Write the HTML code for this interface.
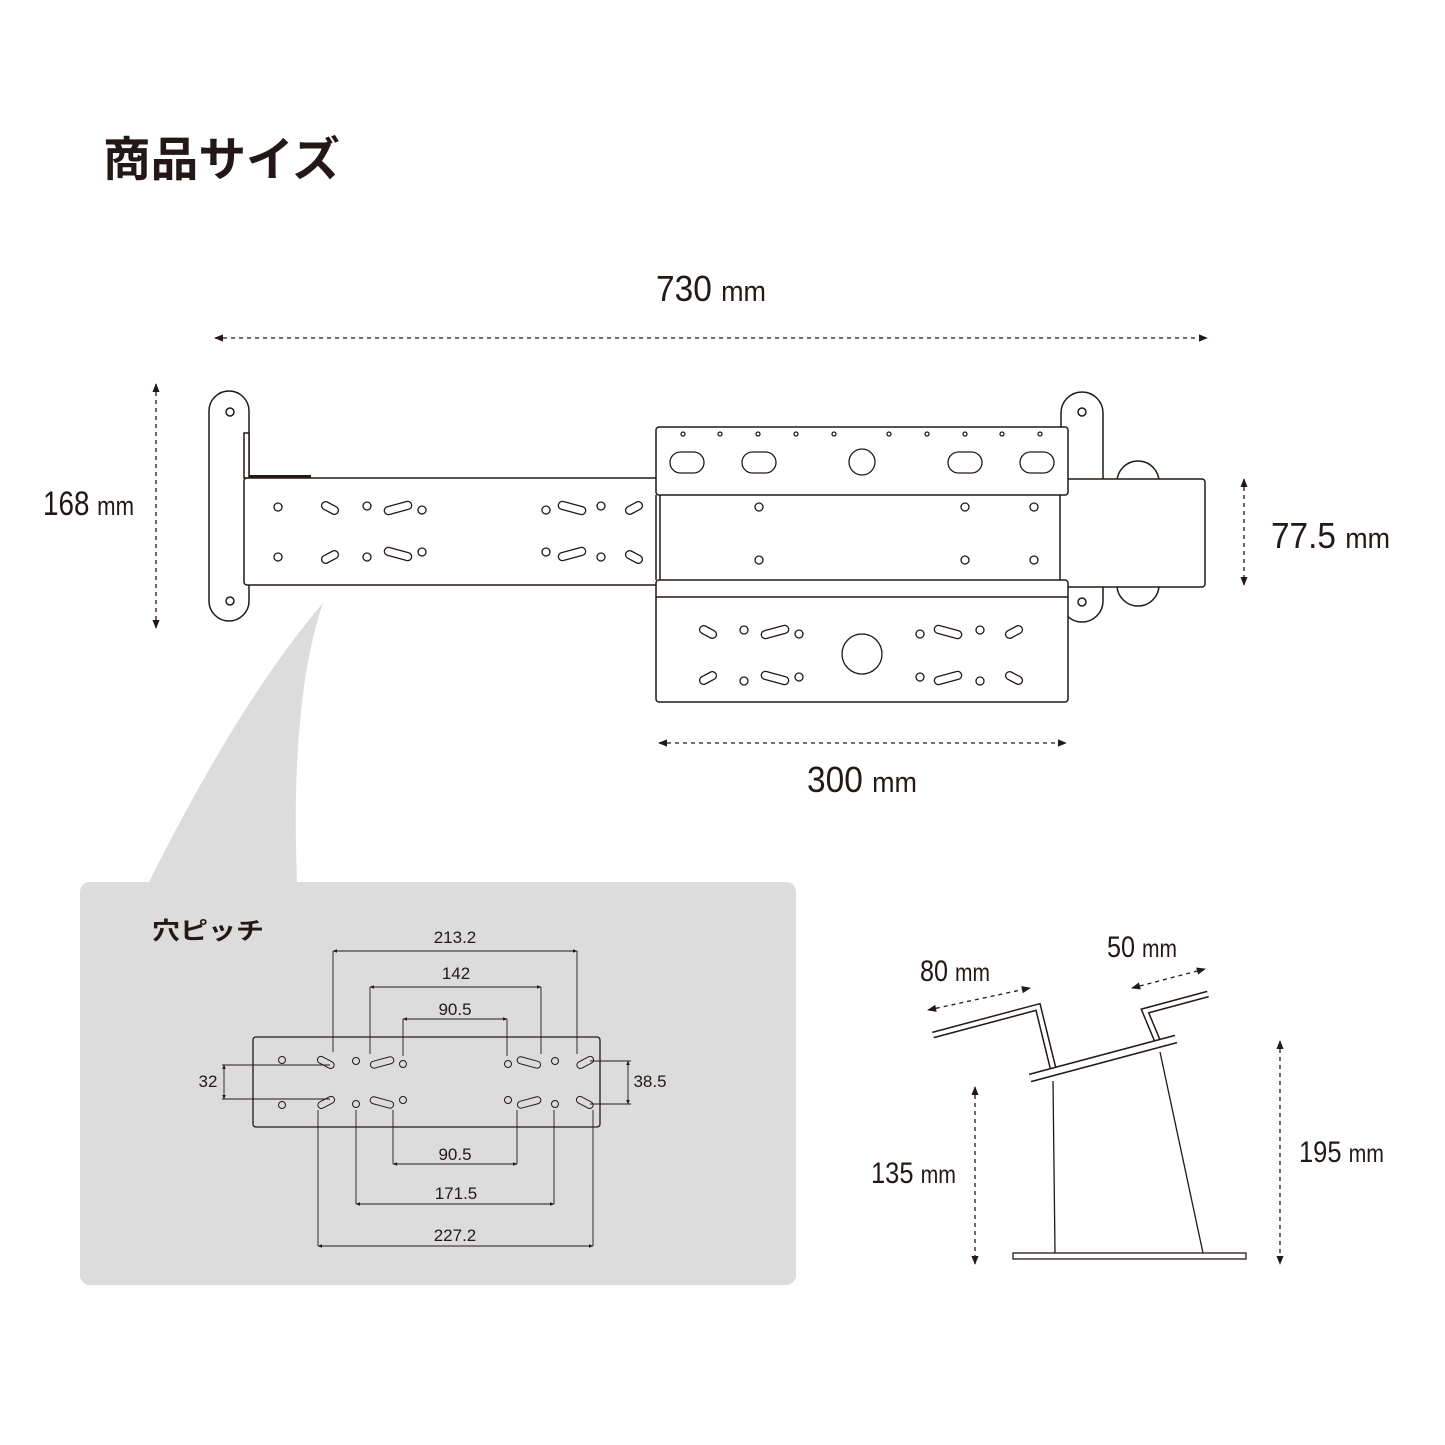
<!DOCTYPE html>
<html><head><meta charset="utf-8"><style>
html,body{margin:0;padding:0;background:#fff}
svg{display:block}
.n{font-family:"Liberation Sans Narrow","Liberation Sans",sans-serif;fill:#231815}
</style></head><body>
<svg width="1445" height="1445" viewBox="0 0 1445 1445" xmlns="http://www.w3.org/2000/svg">
<defs>
<marker id="a" viewBox="0 0 10 10" refX="9" refY="5" markerWidth="7" markerHeight="7" orient="auto-start-reverse"><path d="M0,1 L10,5 L0,9 z" fill="#231815"/></marker>
<marker id="b" viewBox="0 0 10 10" refX="9" refY="5" markerWidth="5" markerHeight="5" orient="auto-start-reverse"><path d="M0,1 L10,5 L0,9 z" fill="#231815"/></marker>
</defs>
<text x="103" y="176" font-family="'Liberation Sans','Noto Sans CJK JP',sans-serif" font-weight="bold" font-size="47" fill="#231815" textLength="237" lengthAdjust="spacingAndGlyphs">商品サイズ</text>

<path d="M149,882 Q240,700 323,603 Q290,700 297,882 Z" fill="#dcdcdc"/>
<rect x="80" y="882" width="716" height="403" rx="10" fill="#dcdcdc"/>

<g fill="#fff" stroke="#231815" stroke-width="1.5">
<rect x="209" y="391" width="40" height="230" rx="20"/>
<circle cx="230" cy="412" r="4"/><circle cx="230" cy="601" r="4"/>
<rect x="244" y="433" width="5" height="45"/>
<rect x="1061" y="392" width="42" height="230" rx="21"/>
<circle cx="1082" cy="412" r="4"/><circle cx="1082" cy="602" r="4"/>
<circle cx="1138" cy="482" r="21"/><circle cx="1138" cy="585" r="21"/>
<rect x="1060" y="479" width="145" height="108" rx="3"/>
<rect x="244" y="478" width="416" height="107" rx="3"/>
<rect x="656" y="427" width="412" height="68" rx="3"/>
<rect x="656" y="580" width="412" height="122" rx="3"/>
<line x1="656" y1="597" x2="1068" y2="597"/>
</g>
<rect x="249" y="475" width="62" height="3" fill="#231815"/>
<line x1="656" y1="495" x2="656" y2="580" stroke="#231815" stroke-width="1.5"/>

<g fill="#fff" stroke="#231815" stroke-width="1.3">
<circle cx="278" cy="507" r="4"/><circle cx="278" cy="557" r="4"/>
<rect x="321" y="504" width="18" height="8" rx="4" transform="rotate(28 330 508)"/>
<rect x="321" y="553" width="18" height="8" rx="4" transform="rotate(-28 330 557)"/>
<circle cx="367" cy="506" r="4"/><circle cx="367" cy="557" r="4"/>
<rect x="384" y="504" width="28" height="8" rx="4" transform="rotate(-15 398 508)"/>
<rect x="384" y="550" width="28" height="8" rx="4" transform="rotate(15 398 554)"/>
<circle cx="422" cy="510" r="4"/><circle cx="422" cy="552" r="4"/>
<circle cx="546" cy="510" r="4"/><circle cx="546" cy="552" r="4"/>
<rect x="558" y="504" width="28" height="8" rx="4" transform="rotate(15 572 508)"/>
<rect x="558" y="550" width="28" height="8" rx="4" transform="rotate(-15 572 554)"/>
<circle cx="601" cy="506" r="4"/><circle cx="601" cy="557" r="4"/>
<rect x="625" y="504" width="18" height="8" rx="4" transform="rotate(-28 634 508)"/>
<rect x="625" y="553" width="18" height="8" rx="4" transform="rotate(28 634 557)"/>
<circle cx="683" cy="434" r="2"/><circle cx="720" cy="434" r="2"/><circle cx="758" cy="434" r="2"/><circle cx="796" cy="434" r="2"/><circle cx="834" cy="434" r="2"/>
<circle cx="889" cy="434" r="2"/><circle cx="927" cy="434" r="2"/><circle cx="965" cy="434" r="2"/><circle cx="1002" cy="434" r="2"/><circle cx="1040" cy="434" r="2"/>
<rect x="670" y="452" width="34" height="21" rx="10.5"/><rect x="742" y="452" width="34" height="21" rx="10.5"/>
<rect x="948" y="452" width="34" height="21" rx="10.5"/><rect x="1020" y="452" width="34" height="21" rx="10.5"/>
<circle cx="862" cy="462" r="13"/>
<circle cx="759" cy="507" r="4"/><circle cx="965" cy="507" r="4"/><circle cx="1034" cy="507" r="4"/>
<circle cx="759" cy="560" r="4"/><circle cx="965" cy="560" r="4"/><circle cx="1034" cy="560" r="4"/>
<rect x="699" y="628" width="18" height="8" rx="4" transform="rotate(28 708 632)"/>
<rect x="699" y="674" width="18" height="8" rx="4" transform="rotate(-28 708 678)"/>
<circle cx="744" cy="630" r="4"/><circle cx="744" cy="681" r="4"/>
<rect x="761" y="628" width="28" height="8" rx="4" transform="rotate(-15 775 632)"/>
<rect x="761" y="674" width="28" height="8" rx="4" transform="rotate(15 775 678)"/>
<circle cx="799" cy="634" r="4"/><circle cx="799" cy="677" r="4"/>
<circle cx="862" cy="654" r="20"/>
<circle cx="920" cy="634" r="4"/><circle cx="920" cy="677" r="4"/>
<rect x="934" y="628" width="28" height="8" rx="4" transform="rotate(15 948 632)"/>
<rect x="934" y="674" width="28" height="8" rx="4" transform="rotate(-15 948 678)"/>
<circle cx="980" cy="630" r="4"/><circle cx="980" cy="681" r="4"/>
<rect x="1005" y="628" width="18" height="8" rx="4" transform="rotate(-28 1014 632)"/>
<rect x="1005" y="674" width="18" height="8" rx="4" transform="rotate(28 1014 678)"/>
</g>

<g stroke="#231815" stroke-width="1.3" stroke-dasharray="4,4" fill="none">
<line x1="215" y1="338" x2="1207" y2="338" marker-start="url(#a)" marker-end="url(#a)"/>
<line x1="156" y1="384" x2="156" y2="628" marker-start="url(#a)" marker-end="url(#a)"/>
<line x1="1244" y1="479" x2="1244" y2="585" marker-start="url(#a)" marker-end="url(#a)"/>
<line x1="659" y1="743" x2="1066" y2="743" marker-start="url(#a)" marker-end="url(#a)"/>
<line x1="928" y1="1010" x2="1030" y2="988" marker-start="url(#a)" marker-end="url(#a)"/>
<line x1="1132" y1="988" x2="1205" y2="969" marker-start="url(#a)" marker-end="url(#a)"/>
<line x1="975" y1="1087" x2="975" y2="1264" marker-start="url(#a)" marker-end="url(#a)"/>
<line x1="1280" y1="1041" x2="1280" y2="1264" marker-start="url(#a)" marker-end="url(#a)"/>
</g>
<g class="n" lengthAdjust="spacingAndGlyphs">
<text x="656" y="301" font-size="36" textLength="110" lengthAdjust="spacingAndGlyphs">730 <tspan font-size="29">mm</tspan></text>
<text x="43" y="515" font-size="34" textLength="91" lengthAdjust="spacingAndGlyphs">168 <tspan font-size="27">mm</tspan></text>
<text x="1271" y="548" font-size="36" textLength="119" lengthAdjust="spacingAndGlyphs">77.5 <tspan font-size="29">mm</tspan></text>
<text x="807" y="792" font-size="36" textLength="110" lengthAdjust="spacingAndGlyphs">300 <tspan font-size="29">mm</tspan></text>
<text x="920" y="981" font-size="30" textLength="70" lengthAdjust="spacingAndGlyphs">80 <tspan font-size="25">mm</tspan></text>
<text x="1107" y="957" font-size="30" textLength="70" lengthAdjust="spacingAndGlyphs">50 <tspan font-size="25">mm</tspan></text>
<text x="871" y="1183" font-size="30" textLength="85" lengthAdjust="spacingAndGlyphs">135 <tspan font-size="25">mm</tspan></text>
<text x="1299" y="1162" font-size="30" textLength="85" lengthAdjust="spacingAndGlyphs">195 <tspan font-size="25">mm</tspan></text>
</g>

<g fill="none" stroke-linejoin="miter">
<polyline points="933,1035 1038,1007 1053,1068" stroke="#231815" stroke-width="7"/>
<polyline points="933,1035 1038,1007 1053,1068" stroke="#fff" stroke-width="4"/>
<polyline points="1208,994 1145,1011 1160,1047" stroke="#231815" stroke-width="7"/>
<polyline points="1208,994 1145,1011 1160,1047" stroke="#fff" stroke-width="4"/>
<line x1="1030" y1="1078" x2="1176" y2="1039" stroke="#231815" stroke-width="9"/>
<line x1="1030" y1="1078" x2="1176" y2="1039" stroke="#fff" stroke-width="6"/>
<line x1="1053" y1="1081" x2="1055" y2="1253" stroke="#231815" stroke-width="1.3"/>
<line x1="1160" y1="1052" x2="1203" y2="1253" stroke="#231815" stroke-width="1.3"/>
<rect x="1013" y="1253" width="233" height="6" fill="#fff" stroke="#231815" stroke-width="1.3"/>
</g>

<text x="152" y="939" font-family="'Liberation Sans','Noto Sans CJK JP',sans-serif" font-weight="bold" font-size="24" fill="#231815" textLength="112" lengthAdjust="spacingAndGlyphs">穴ピッチ</text>
<rect x="253" y="1037" width="347" height="90" rx="3" fill="none" stroke="#231815" stroke-width="1.3"/>
<g fill="none" stroke="#231815" stroke-width="1">
<circle cx="282" cy="1060" r="3.5"/><circle cx="282" cy="1105" r="3.5"/>
<rect x="317" y="1059" width="18" height="7" rx="3.5" transform="rotate(28 326 1062)"/>
<rect x="317" y="1099" width="18" height="7" rx="3.5" transform="rotate(-28 326 1102)"/>
<circle cx="356" cy="1061" r="3.5"/><circle cx="356" cy="1104" r="3.5"/>
<rect x="370" y="1059" width="24" height="7" rx="3.5" transform="rotate(-15 382 1062)"/>
<rect x="370" y="1099" width="24" height="7" rx="3.5" transform="rotate(15 382 1102)"/>
<circle cx="403" cy="1064" r="3.5"/><circle cx="403" cy="1100" r="3.5"/>
<circle cx="508" cy="1064" r="3.5"/><circle cx="508" cy="1100" r="3.5"/>
<rect x="517" y="1059" width="24" height="7" rx="3.5" transform="rotate(15 529 1062)"/>
<rect x="517" y="1099" width="24" height="7" rx="3.5" transform="rotate(-15 529 1102)"/>
<circle cx="555" cy="1061" r="3.5"/><circle cx="555" cy="1104" r="3.5"/>
<rect x="576" y="1059" width="18" height="7" rx="3.5" transform="rotate(-28 585 1062)"/>
<rect x="576" y="1099" width="18" height="7" rx="3.5" transform="rotate(28 585 1102)"/>
</g>
<g stroke="#231815" stroke-width="0.9" fill="none">
<line x1="333" y1="951" x2="333" y2="1052"/><line x1="577" y1="951" x2="577" y2="1054"/>
<line x1="333" y1="951" x2="577" y2="951" marker-start="url(#b)" marker-end="url(#b)"/>
<line x1="370" y1="987" x2="370" y2="1054"/><line x1="541" y1="987" x2="541" y2="1054"/>
<line x1="370" y1="987" x2="541" y2="987" marker-start="url(#b)" marker-end="url(#b)"/>
<line x1="403" y1="1019" x2="403" y2="1056"/><line x1="507" y1="1019" x2="507" y2="1056"/>
<line x1="403" y1="1019" x2="507" y2="1019" marker-start="url(#b)" marker-end="url(#b)"/>
<line x1="393" y1="1110" x2="393" y2="1164"/><line x1="517" y1="1110" x2="517" y2="1164"/>
<line x1="393" y1="1164" x2="517" y2="1164" marker-start="url(#b)" marker-end="url(#b)"/>
<line x1="356" y1="1110" x2="356" y2="1204"/><line x1="554" y1="1110" x2="554" y2="1204"/>
<line x1="356" y1="1204" x2="554" y2="1204" marker-start="url(#b)" marker-end="url(#b)"/>
<line x1="318" y1="1110" x2="318" y2="1246"/><line x1="593" y1="1110" x2="593" y2="1246"/>
<line x1="318" y1="1246" x2="593" y2="1246" marker-start="url(#b)" marker-end="url(#b)"/>
<line x1="222" y1="1065" x2="330" y2="1065"/><line x1="222" y1="1099" x2="330" y2="1099"/>
<line x1="224" y1="1065" x2="224" y2="1099" marker-start="url(#b)" marker-end="url(#b)"/>
<line x1="590" y1="1061" x2="631" y2="1061"/><line x1="590" y1="1104" x2="631" y2="1104"/>
<line x1="628" y1="1061" x2="628" y2="1104" marker-start="url(#b)" marker-end="url(#b)"/>
</g>
<g class="n" font-size="17" text-anchor="middle">
<text x="455" y="943">213.2</text>
<text x="456" y="979">142</text>
<text x="455" y="1015">90.5</text>
<text x="455" y="1160">90.5</text>
<text x="456" y="1199">171.5</text>
<text x="455" y="1241">227.2</text>
<text x="208" y="1087">32</text>
<text x="650" y="1087">38.5</text>
</g>
</svg>
</body></html>
